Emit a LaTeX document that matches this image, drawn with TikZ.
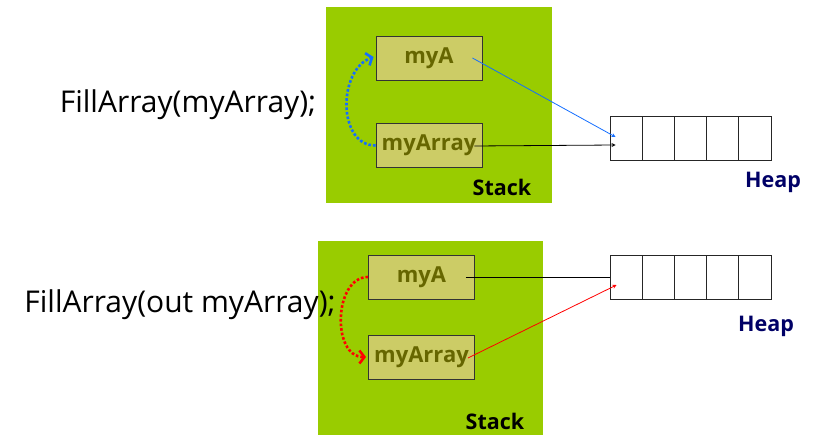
\documentclass[tikz,border=0pt]{standalone}
\usepackage{fontspec}
\setmainfont{Open Sans}
\usetikzlibrary{arrows.meta}

\definecolor{stackgreen}{RGB}{153,204,0}
\definecolor{varolive}{RGB}{204,204,102}
\definecolor{vartext}{RGB}{102,102,0}
\definecolor{heapnavy}{RGB}{0,0,102}
\definecolor{refblue}{RGB}{20,110,255}

\begin{document}
\begin{tikzpicture}
[x=1pt,y=-1pt,>=stealth,
stack/.style={fill=stackgreen,inner sep=0pt},
var/.style={draw=black!80,line width=0.9pt,fill=varolive,minimum width=106pt,minimum height=44pt,inner sep=0pt,text=vartext,font=\fontsize{22}{22}\selectfont\bfseries},
cell/.style={draw=black!85,line width=0.9pt,minimum width=32.2pt,minimum height=44pt,inner sep=0pt},
call/.style={font=\fontsize{30}{30}\selectfont},
tag/.style={font=\fontsize{21.5}{21.5}\selectfont\bfseries},
link/.style={line width=0.8pt},
passarrow/.style={line width=2.6pt,dotted,-{Straight Barb[length=5pt,width=13pt]}},]

\useasboundingbox (0,0) rectangle (814,436);

%Top: by reference
\node (S1) at (439,105)[stack,minimum width=226pt,minimum height=196pt] {};
\node (A1) at (429,58)[var] {myA};
\node (R1) at (429,145.5)[var] {myArray};
\node (K1) at (502,187)[tag] {Stack};
\node (C1) at (188,105)[call] {FillArray(myArray);};

%Heap cells
\foreach \i in {1,...,5}
  \node (H1\i) at ({610+32.2*\i-16.1},138)[cell] {};
\node (P1) at (773,182)[tag,text=heapnavy] {Heap};

\draw[link,refblue,->] ([xshift=-10pt]A1.east) -- ([xshift=6pt,yshift=1pt]H11.west);
\draw[link,->] ([xshift=-8pt,yshift=-0.5pt]R1.east) -- ([xshift=6pt,yshift=-7pt]H11.west);
\draw[refblue,passarrow] (R1.west) to[out=180,in=200,looseness=1.1] ([xshift=-2pt,yshift=1pt]A1.west);

%Bottom: with out
\node (S2) at (430.5,338)[stack,minimum width=225pt,minimum height=194pt] {};
\node (A2) at (421.5,277)[var] {myA};
\node (R2) at (421.5,357)[var] {myArray};
\node (K2) at (495,421)[tag] {Stack};
\node (C2) at (180,305)[call] {FillArray(out myArray);};

%Heap cells
\foreach \i in {1,...,5}
  \node (H2\i) at ({610+32.2*\i-16.1},277)[cell] {};
\node (P2) at (766,326)[tag,text=heapnavy] {Heap};

\draw[link] ([xshift=-9pt]A2.east) -- (H21.west);
\draw[link,red,->] ([xshift=-7pt,yshift=-1pt]R2.east) -- ([xshift=7pt,yshift=-8pt]H21.west);
\draw[red,passarrow] (A2.west) to[out=180,in=180,looseness=1.1] ([xshift=-2pt]R2.west);

\end{tikzpicture}
\end{document}
